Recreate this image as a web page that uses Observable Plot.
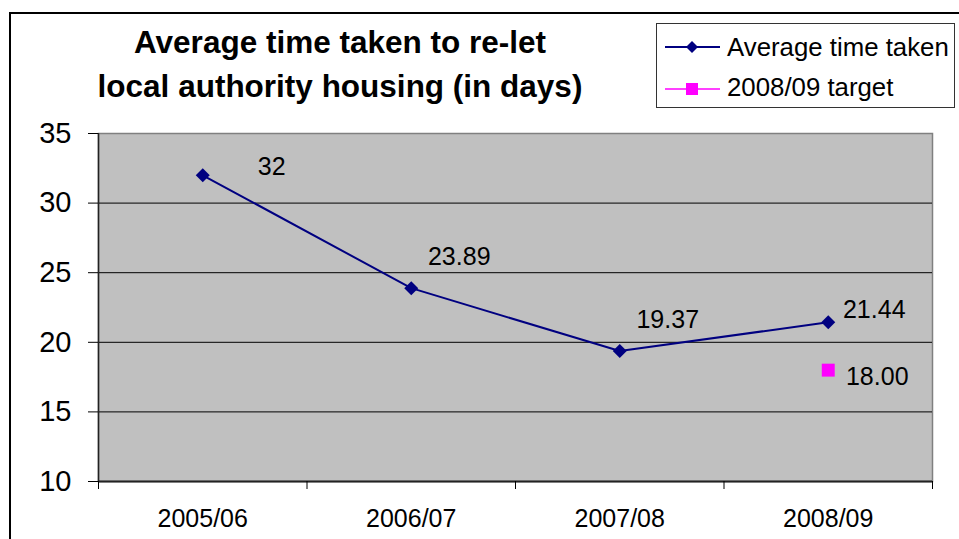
<!DOCTYPE html>
<html><head><meta charset="utf-8">
<script src="https://cdn.jsdelivr.net/npm/d3@7"></script>
<script src="https://cdn.jsdelivr.net/npm/@observablehq/plot@0.6"></script>
<style>
body{margin:0;width:959px;height:539px;overflow:hidden;background:#fff;font-family:"Liberation Sans",Arial,sans-serif;}
#wrap{position:relative;width:959px;height:539px;overflow:hidden;}
#frame{position:absolute;left:9px;top:12px;width:2000px;height:2000px;border:2px solid #000;}
#title{position:absolute;left:40px;top:20px;width:600px;text-align:center;font-weight:bold;font-size:31.5px;line-height:44px;color:#000;}
#chart{position:absolute;left:0;top:0;}
#legend{position:absolute;left:656px;top:23px;}
</style></head><body>
<div id="wrap">
  <div id="frame"></div>
  <div id="chart"></div>
  <div id="title">Average time taken to re-let<br>local authority housing (in days)</div>
  <div id="legend"></div>
</div>
<script>
const years = ["2005/06", "2006/07", "2007/08", "2008/09"];
const avgDays = [32, 23.89, 19.37, 21.44];
const avgLabels = ["32", "23.89", "19.37", "21.44"];
const targetYear = "2008/09";
const targetDays = 18;
const targetLabel = "18.00";
const yTicks = [10, 15, 20, 25, 30, 35];
const gridTicks = [15, 20, 25, 30];
const seriesNames = ["Average time taken", "2008/09 target"];
const seriesColors = ["#000080", "#ff00ff"];

const rows = years.map((y, i) => ({year: y, i, value: avgDays[i], label: avgLabels[i]}));
const target = [{year: targetYear, value: targetDays, label: targetLabel}];
const xPos = d => years.indexOf(d.year) + 0.5;
const txt = {x: xPos, y: "value", text: "label", fontSize: 25, fill: "#000"};

const chart = Plot.plot({
  width: 959, height: 539,
  marginLeft: 98, marginRight: 27, marginTop: 133, marginBottom: 58,
  style: {fontFamily: "'Liberation Sans', Arial, sans-serif", fontSize: "24px", background: "transparent", color: "#000"},
  x: {type: "linear", domain: [0, years.length]},
  y: {domain: [10, 35]},
  marks: [
    Plot.frame({fill: "#c0c0c0", stroke: "#808080", strokeWidth: 1.5}),
    Plot.ruleY(gridTicks, {stroke: "#000", strokeWidth: 1}),
    Plot.ruleY([10], {stroke: "#222", strokeWidth: 2}),
    Plot.ruleX([0], {stroke: "#222", strokeWidth: 1.5}),
    Plot.axisY({ticks: yTicks, tickSize: 10, tickPadding: 17, fontSize: 29, label: null, tickFormat: d => String(d)}),
    Plot.axisX(d3.range(0, years.length + 1), {tickSize: 8, tickFormat: () => "", label: null}),
    Plot.axisX(d3.range(years.length).map(i => i + 0.5), {tickSize: 0, tickPadding: 28, fontSize: 25, label: null, tickFormat: v => years[Math.floor(v)]}),
    Plot.line(rows, {x: xPos, y: "value", stroke: seriesColors[0], strokeWidth: 2}),
    Plot.dot(rows, {x: xPos, y: "value", symbol: "diamond2", r: 6.3, fill: seriesColors[0]}),
    Plot.dot(target, {x: xPos, y: "value", symbol: "square", r: 7.3, fill: seriesColors[1]}),
    Plot.text(rows.filter(d => d.i === 0), {...txt, dx: 69, dy: -8}),
    Plot.text(rows.filter(d => d.i === 1 || d.i === 2), {...txt, dx: 48, dy: -31}),
    Plot.text(rows.filter(d => d.i === 3), {...txt, dx: 46, dy: -12}),
    Plot.text(target, {...txt, dx: 49, dy: 7})
  ]
});
document.getElementById("chart").appendChild(chart);

// legend
const lg = d3.select("#legend").append("svg").attr("width", 300).attr("height", 86);
lg.append("rect").attr("x", 0.5).attr("y", 0.5).attr("width", 298).attr("height", 84)
  .attr("fill", "#fff").attr("stroke", "#333");
const rowsY = [24, 66];
seriesNames.forEach((name, k) => {
  const cy = rowsY[k];
  lg.append("line").attr("x1", 9).attr("x2", 64).attr("y1", cy).attr("y2", cy)
    .attr("stroke", seriesColors[k]).attr("stroke-width", k === 0 ? 2 : 1.5);
  if (k === 0) {
    lg.append("path").attr("d", `M36,${cy-6}L42,${cy}L36,${cy+6}L30,${cy}Z`).attr("fill", seriesColors[k]);
  } else {
    lg.append("rect").attr("x", 30).attr("y", cy - 6).attr("width", 12).attr("height", 12).attr("fill", seriesColors[k]);
  }
  lg.append("text").attr("x", 71).attr("y", cy + 9 + (k === 0 ? 0 : -2))
    .attr("font-family", "'Liberation Sans', Arial, sans-serif").attr("font-size", 25.8).attr("fill", "#000")
    .text(name);
});
</script>
</body></html>
